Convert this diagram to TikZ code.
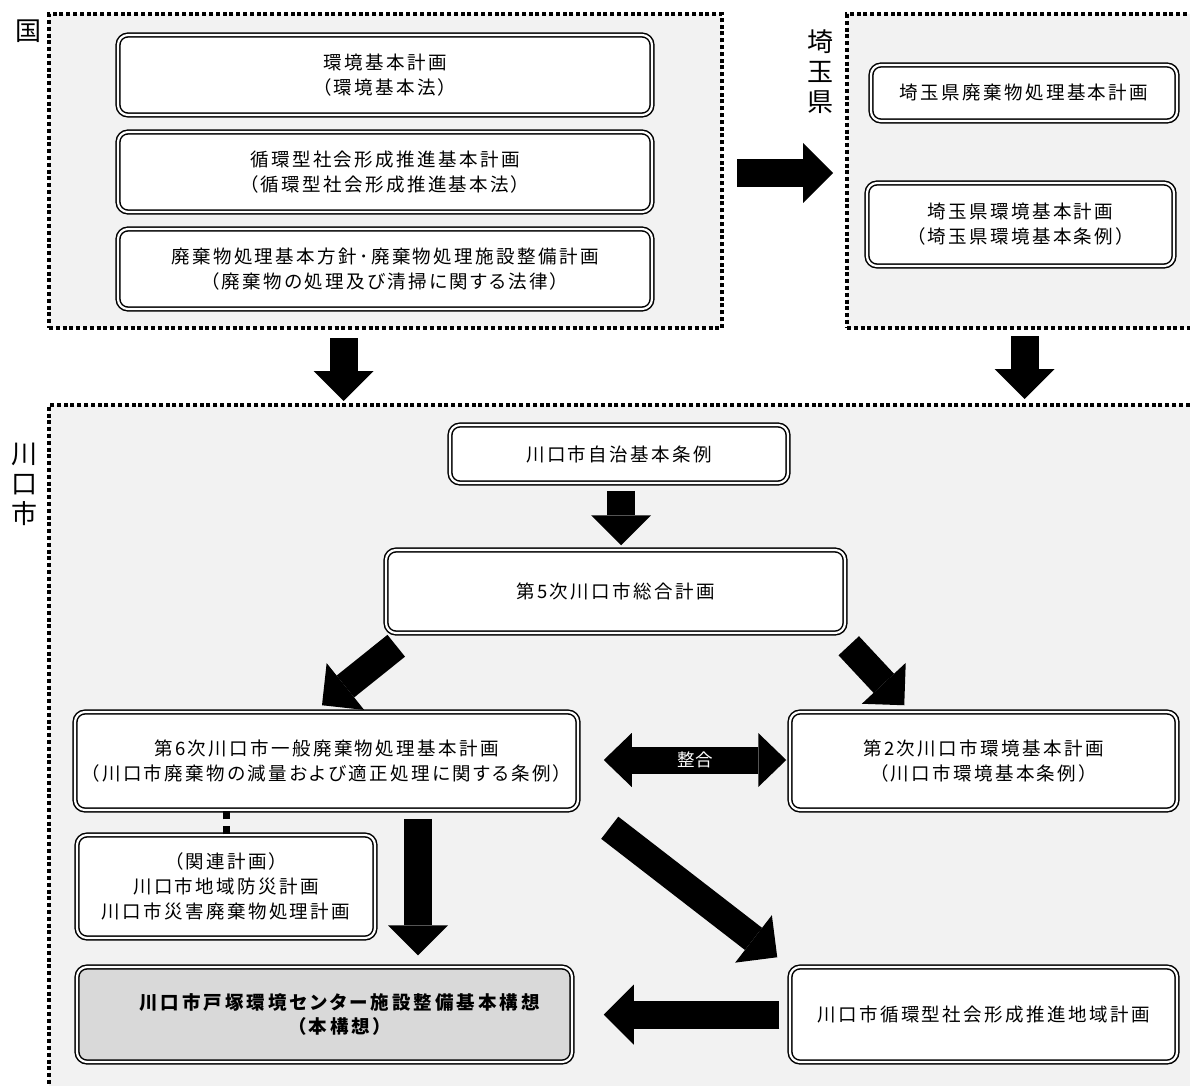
\documentclass[tikz,border=0pt]{standalone}
\usepackage{fontspec}
\setmainfont[CharacterWidth=AlternateProportional]{Noto Sans CJK JP}
\newfontfamily\widejp[CharacterWidth=AlternateProportional,LetterSpace=13]{Noto Sans CJK JP}
\newfontfamily\boldjp[CharacterWidth=AlternateProportional,LetterSpace=16]{Noto Sans CJK JP}
\usepackage{tikz}
\usetikzlibrary{arrows.meta, calc, positioning}
\definecolor{panel}{RGB}{242,242,242}
\definecolor{mainplan}{RGB}{217,217,217}

\begin{document}
\begin{tikzpicture}[x=0.5pt, y=-0.5pt,
    area/.style={draw=black, fill=panel, line width=2pt, dash pattern=on 2pt off 1.4pt, inner sep=0pt},
    arealabel/.style={align=center, inner sep=0pt, font=\fontsize{13}{15}\selectfont},
    plan/.style={draw=black, fill=white, double=white, double distance=1.1pt, line width=0.75pt,
        rounded corners=5pt, align=center, inner sep=0pt, font=\widejp\fontsize{9.25}{12.5}\selectfont},
    kuniplan/.style={plan, minimum width=267pt, minimum height=40pt},
    fatarrow/.style={line width=14pt, -{Triangle[length=15pt, width=30pt, line width=0pt]}},
    linkdot/.style={line width=3.5pt, dash pattern=on 4pt off 3.5pt}]
    \useasboundingbox (0,0) rectangle (1190,1086);
    \clip (0,0) rectangle (1190,1086);
    \begin{scope}
        \node[area, minimum width=336.5pt, minimum height=157pt] (kuni) at (385.5,171) {};
        \node[area, minimum width=176.5pt, minimum height=157pt] (saitama) at (1023.5,171) {};
        \node[area, minimum width=575.5pt, minimum height=347.5pt] (kawaguchi) at (624.5,752.5) {};
        \node[arealabel] (kunilabel) at (29,31) {国};
        \node[arealabel] (saitamalabel) at (820,72) {埼\\玉\\県};
        \node[arealabel] (kawaguchilabel) at (24,484) {川\\口\\市};
    \end{scope}
    \begin{scope}
        \node[kuniplan] (kankyo) at (385,75) {環境基本計画\\（環境基本法）};
        \node[kuniplan] (junkan) at (385,172) {循環型社会形成推進基本計画\\（循環型社会形成推進基本法）};
        \node[kuniplan] (haiki) at (385,269) {廃棄物処理基本方針･廃棄物処理施設整備計画\\（廃棄物の処理及び清掃に関する法律）};
    \end{scope}
    \begin{scope}
        \node[plan, minimum width=153pt, minimum height=28pt] (saihaiki) at (1024,93) {埼玉県廃棄物処理基本計画};
        \node[plan, minimum width=153.5pt, minimum height=41.5pt] (saikankyo) at (1020.5,224.5) {埼玉県環境基本計画\\（埼玉県環境基本条例）};
    \end{scope}
    \begin{scope}
        \node[plan, minimum width=169pt, minimum height=29pt] (jichi) at (619,454) {川口市自治基本条例};
        \node[plan, minimum width=229.5pt, minimum height=41.5pt] (sogo) at (615.5,591.5) {第5次川口市総合計画};
        \node[plan, minimum width=251.5pt, minimum height=49pt] (rokuji) at (326.5,761) {第6次川口市一般廃棄物処理基本計画\\（川口市廃棄物の減量および適正処理に関する条例）};
        \node[plan, minimum width=193.5pt, minimum height=49pt] (niji) at (983.5,761) {第2次川口市環境基本計画\\（川口市環境基本条例）};
        \node[plan, minimum width=149pt, minimum height=51.5pt] (kanren) at (226,886.5) {（関連計画）\\川口市地域防災計画\\川口市災害廃棄物処理計画};
        \node[plan, fill=mainplan, minimum width=247.5pt, minimum height=47.5pt, font=\boldjp\bfseries\fontsize{9.25}{12.5}\selectfont] (kousou) at (324.5,1014.5)
            {\hspace*{15pt}川口市戸塚環境センター施設整備基本構想\\\hspace*{15pt}（本構想）};
        \node[plan, minimum width=193.5pt, minimum height=47.5pt] (chiiki) at (983.5,1014.5) {川口市循環型社会形成推進地域計画};
    \end{scope}
    \draw[fatarrow] ($(kuni.east)+(13,2)$) -- ($(saitama.west)+(-12,2)$);
    \draw[fatarrow] ($(kuni.south)+(-42,8)$) -- ($(kuni.south)+(-42,71)$);
    \draw[fatarrow] ($(saitama.south)+(1,6)$) -- ($(saitama.south)+(1,69)$);
    \draw[fatarrow] ($(jichi.south)+(2,7)$) -- ($(sogo.north)+(5.5,-4)$);
    \draw[fatarrow] ($(sogo.south west)+(11,12)$) -- ($(rokuji.north)+(-4.5,-6)$);
    \draw[fatarrow] ($(sogo.south east)+(3,12)$) -- ($(niji.north west)+(115,-6)$);
    \draw[line width=13.5pt, {Triangle[length=14pt, width=27pt, line width=0pt]}-{Triangle[length=14pt, width=27pt, line width=0pt]}]
        ($(rokuji.east)+(25,-1)$) -- node[text=white, font=\fontsize{8.75}{10}\selectfont] (seigo) {整合} ($(niji.west)+(-3,-1)$);
    \draw[fatarrow] ($(rokuji.south)+(91.5,8)$) -- ($(kousou.north)+(93.5,-11)$);
    \draw[fatarrow] ($(rokuji.south east)+(31,17)$) -- ($(chiiki.north west)+(-12,-9)$);
    \draw[fatarrow] ($(chiiki.west)+(-10,0)$) -- ($(kousou.east)+(31,0)$);
    \draw[linkdot] (kanren.north) -- (kanren.north |- rokuji.south);
\end{tikzpicture}
\end{document}
